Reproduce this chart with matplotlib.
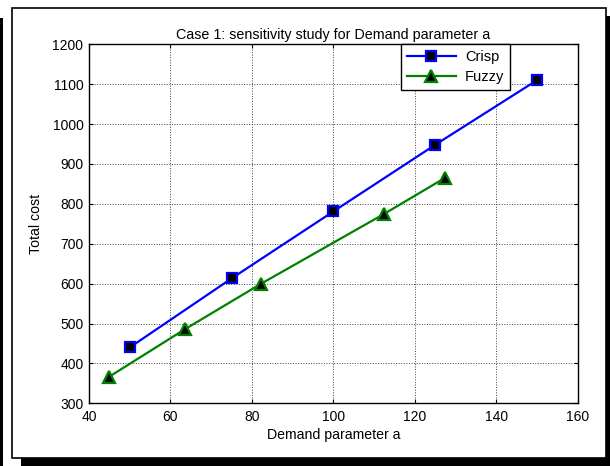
import matplotlib
matplotlib.use("Agg")
import matplotlib.pyplot as plt
from matplotlib.patches import Rectangle

plt.rcParams['font.family'] = ['Liberation Sans', 'DejaVu Sans']

crisp_x = [50, 75, 100, 125, 150]
crisp_y = [440, 613, 781, 948, 1110]
fuzzy_x = [45, 63.6, 82.3, 112.5, 127.4]
fuzzy_y = [367, 486, 600, 775, 865]
xticks = [40, 60, 80, 100, 120, 140, 160]
yticks = [300, 400, 500, 600, 700, 800, 900, 1000, 1100, 1200]

W, H = 610, 466
fig = plt.figure(figsize=(W / 100, H / 100), dpi=100)
fig.patch.set_facecolor('white')

def px_rect(x0, y0, x1, y1, **kw):
    return Rectangle((x0 / W, 1 - y1 / H), (x1 - x0) / W, (y1 - y0) / H,
                     transform=fig.transFigure, figure=fig, **kw)

# shadow, frame, left bar
fig.patches.append(px_rect(21, 16, 620, 480, facecolor='black', edgecolor='none', zorder=0))
fig.patches.append(px_rect(12.5, 7.5, 606, 457.5, facecolor='white', edgecolor='black', linewidth=1.2, zorder=1))
fig.patches.append(px_rect(0, 18, 3, 470, facecolor='black', edgecolor='none', zorder=1))

ax = fig.add_axes([89 / W, 1 - 403.3 / H, (577.7 - 89) / W, (403.3 - 44.3) / H], zorder=2)
ax.plot(crisp_x, crisp_y, color='#0000ff', linewidth=1.6, marker='s', markersize=7.5,
        markerfacecolor='black', markeredgecolor='#0000ff', markeredgewidth=1.6, label='Crisp')
ax.plot(fuzzy_x, fuzzy_y, color='#008000', linewidth=1.6, marker='^', markersize=8.5,
        markerfacecolor='black', markeredgecolor='#008000', markeredgewidth=1.6, label='Fuzzy')

ax.set_xlim(40, 160)
ax.set_ylim(300, 1200)
ax.set_xticks(xticks)
ax.set_yticks(yticks)
ax.tick_params(direction='in', length=3, width=0.8, top=True, right=True, labelsize=10)
ax.tick_params(axis='x', pad=5)
ax.tick_params(axis='y', pad=4)
ax.grid(True, linestyle=':', color='0.25', linewidth=0.7)
for s in ax.spines.values():
    s.set_linewidth(1.0)

ax.set_title('Case 1: sensitivity study for Demand parameter a', fontsize=10.3, pad=4)
ax.set_xlabel('Demand parameter a', fontsize=10.2, labelpad=3)
ax.set_ylabel('Total cost', fontsize=10.2, labelpad=6.5)

leg = ax.legend(loc='upper left', bbox_to_anchor=((400.7 - 89) / 488.7, 1.0),
                fontsize=10.5, fancybox=False, framealpha=1, edgecolor='black',
                borderpad=0.4, handlelength=3.4, handletextpad=0.6, labelspacing=0.4,
                borderaxespad=0)
leg.get_frame().set_linewidth(1.0)

fig.savefig('out.png', dpi=100, facecolor='white')
